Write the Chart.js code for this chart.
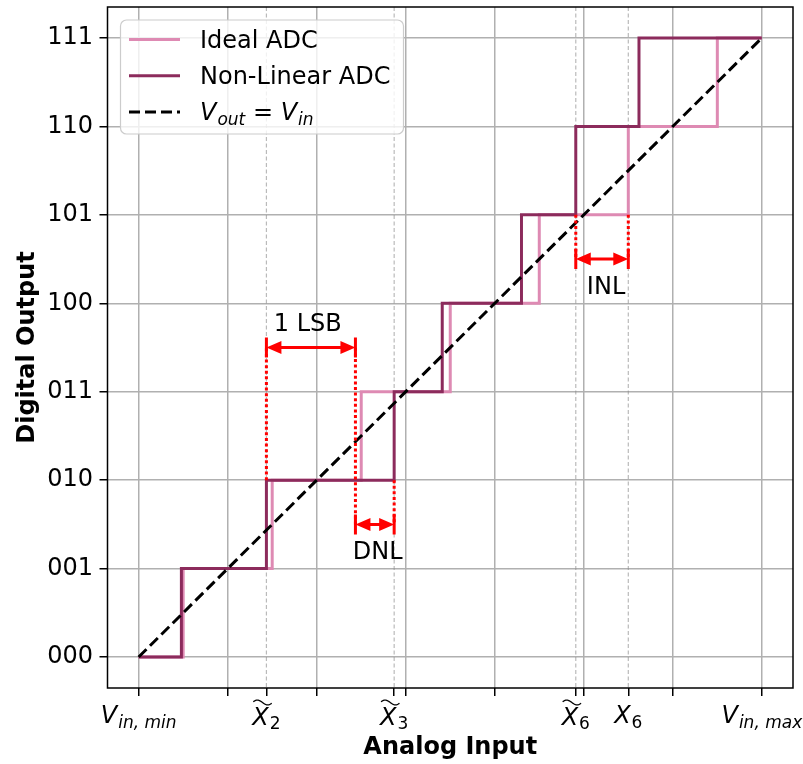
<!DOCTYPE html>
<html>
<head>
<meta charset="utf-8">
<script src="https://cdn.jsdelivr.net/npm/chart.js@4.4.1/dist/chart.umd.min.js"></script>
<style>
  html, body { margin: 0; padding: 0; background: #fff; }
  #wrap { width: 803px; height: 764px; }
</style>
</head>
<body>
<div id="wrap"><canvas id="adcChart"></canvas></div>
<script>
// Output codes (y axis)
const codeValues = [0, 1, 2, 3, 4, 5, 6, 7];
const codeLabels = ['000', '001', '010', '011', '100', '101', '110', '111'];

// Ideal ADC: transition points (x in LSB units)
const idealX = [0, 0.5, 1.5, 2.5, 3.5, 4.5, 5.5, 6.5, 7];
const idealY = [0, 1, 2, 3, 4, 5, 6, 7, 7];

// Non-linear ADC: transition points
const nonLinX = [0, 0.48, 1.435, 2.87, 3.41, 4.3, 4.91, 5.62, 7];
const nonLinY = [0, 1, 2, 3, 4, 5, 6, 7, 7];

// Vout = Vin
const refX = [0, 7];
const refY = [0, 7];

// x axis ticks
const xGridVals = [0, 1, 2, 3, 4, 5, 6, 7];
const xMarkVals = [1.435, 2.87, 4.91, 5.5];
const xLabelVals = [0, 1.435, 2.87, 4.91, 5.5, 7];
const xLabelMain = ['V', 'X', 'X', 'X', 'X', 'V'];
const xLabelSub = ['in, min', '2', '3', '6', '6', 'in, max'];
const xLabelTilde = [false, true, true, true, false, false];

// dimension arrows (1 LSB, DNL, INL)
const dimX0 = [1.435, 2.435, 4.91];
const dimX1 = [2.435, 2.87, 5.5];
const dimY = [3.5, 1.5, 4.5];
const dimText = ['1 LSB', 'DNL', 'INL'];
const dimTextX = [1.9, 2.685, 5.25];
const dimTextY = [3.69, 1.108, 4.11];

// red dotted guide lines
const guideX = [1.435, 2.435, 2.87, 4.91, 5.5];
const guideFrom = [2, 1.5, 2, 5, 5];
const guideTo = [3.5, 3.5, 1.5, 4.5, 4.5];

const FONT = 'DejaVu Sans';
Chart.defaults.font.family = FONT;
Chart.defaults.color = '#000';

const toPoints = (xs, ys) => xs.map((x, i) => ({ x: x, y: ys[i] }));

// wide tilde over a letter
function drawTilde(ctx, x0, x1, y) {
  const w = x1 - x0, h = 2.4;
  ctx.beginPath();
  for (let k = 0; k <= 30; k++) {
    const t = k / 30;
    const px = x0 + t * w;
    const py = y - h * Math.sin(2 * Math.PI * (t * 0.9 + 0.05));
    if (k === 0) ctx.moveTo(px, py); else ctx.lineTo(px, py);
  }
  ctx.stroke();
}

function dimArrow(ctx, xa, xb, y) {
  const head = 15, half = 6.5, bar = 10;
  ctx.lineWidth = 3;
  ctx.beginPath();
  ctx.moveTo(xa + head - 1, y); ctx.lineTo(xb - head + 1, y);
  ctx.moveTo(xa, y - bar); ctx.lineTo(xa, y + bar);
  ctx.moveTo(xb, y - bar); ctx.lineTo(xb, y + bar);
  ctx.stroke();
  ctx.beginPath();
  ctx.moveTo(xa, y); ctx.lineTo(xa + head, y - half); ctx.lineTo(xa + head, y + half); ctx.closePath();
  ctx.moveTo(xb, y); ctx.lineTo(xb - head, y - half); ctx.lineTo(xb - head, y + half); ctx.closePath();
  ctx.fill();
}

// text pieces [text, kind], kind: main / it / sub / subit
function pieceFont(kind) {
  const sub = kind === 'sub' || kind === 'subit';
  const it = kind === 'it' || kind === 'subit';
  return (it ? 'italic ' : '') + (sub ? '17px ' : '24px ') + FONT;
}

function partsWidth(ctx, parts) {
  let w = 0;
  parts.forEach(p => {
    ctx.font = pieceFont(p[1]);
    w += ctx.measureText(p[0]).width + (p[1] === 'it' ? 1 : 0);
  });
  return w;
}

function drawParts(ctx, parts, left, base) {
  let cx = left;
  parts.forEach(p => {
    const sub = p[1] === 'sub' || p[1] === 'subit';
    ctx.font = pieceFont(p[1]);
    ctx.fillText(p[0], cx, base + (sub ? 4.5 : 0));
    cx += ctx.measureText(p[0]).width + (p[1] === 'it' ? 1 : 0);
  });
}

const adcDecor = {
  id: 'adcDecor',
  beforeDatasetsDraw(chart) {
    const { ctx, chartArea: a, scales: { x } } = chart;
    ctx.save();
    ctx.strokeStyle = 'rgba(140,140,140,0.6)';
    ctx.lineWidth = 1.2;
    ctx.setLineDash([4, 2.5]);
    xMarkVals.forEach(v => {
      const px = x.getPixelForValue(v);
      ctx.beginPath(); ctx.moveTo(px, a.top); ctx.lineTo(px, a.bottom); ctx.stroke();
    });
    ctx.restore();
  },
  afterDatasetsDraw(chart) {
    const { ctx, scales: { x, y } } = chart;
    ctx.save();
    ctx.strokeStyle = '#ff0000';
    ctx.fillStyle = '#ff0000';
    ctx.lineWidth = 3;
    ctx.setLineDash([3, 2.6]);
    guideX.forEach((gx, i) => {
      const px = x.getPixelForValue(gx);
      ctx.beginPath();
      ctx.moveTo(px, y.getPixelForValue(guideFrom[i]));
      ctx.lineTo(px, y.getPixelForValue(guideTo[i]));
      ctx.stroke();
    });
    ctx.setLineDash([]);
    dimX0.forEach((d, i) => {
      dimArrow(ctx, x.getPixelForValue(d), x.getPixelForValue(dimX1[i]), y.getPixelForValue(dimY[i]));
    });
    ctx.fillStyle = '#000';
    ctx.font = '24px ' + FONT;
    ctx.textAlign = 'center';
    ctx.textBaseline = 'alphabetic';
    dimText.forEach((t, i) => {
      ctx.fillText(t, x.getPixelForValue(dimTextX[i]), y.getPixelForValue(dimTextY[i]));
    });
    ctx.restore();
  },
  afterDraw(chart) {
    const { ctx, chartArea: a, scales: { x } } = chart;
    ctx.save();
    // frame
    ctx.strokeStyle = '#000';
    ctx.lineWidth = 1.5;
    ctx.strokeRect(a.left, a.top, a.right - a.left, a.bottom - a.top);

    // x tick labels
    ctx.fillStyle = '#000';
    ctx.textAlign = 'left';
    ctx.textBaseline = 'alphabetic';
    xLabelVals.forEach((v, i) => {
      const digit = /^\d+$/.test(xLabelSub[i]);
      const parts = [[xLabelMain[i], 'it'], [xLabelSub[i], digit ? 'sub' : 'subit']];
      const w = partsWidth(ctx, parts);
      const left = x.getPixelForValue(v) - w / 2;
      const base = a.bottom + 35 + (xLabelTilde[i] ? 1.5 : 0);
      drawParts(ctx, parts, left, base);
      if (xLabelTilde[i]) {
        ctx.font = 'italic 24px ' + FONT;
        const wm = ctx.measureText(xLabelMain[i]).width;
        ctx.strokeStyle = '#000';
        ctx.lineWidth = 1.3;
        drawTilde(ctx, left + 1, left + wm + 3, base - 22);
      }
    });

    // legend
    const lx = a.left + 13, ly = a.top + 13, lw = 283, lh = 114;
    ctx.fillStyle = 'rgba(255,255,255,0.8)';
    ctx.strokeStyle = '#cccccc';
    ctx.lineWidth = 1.2;
    ctx.beginPath();
    ctx.roundRect(lx, ly, lw, lh, 6);
    ctx.fill();
    ctx.stroke();
    chart.data.datasets.forEach((ds, i) => {
      const yy = ly + 19.5 + i * 36.3;
      ctx.strokeStyle = ds.borderColor;
      ctx.lineWidth = ds.borderWidth;
      ctx.setLineDash(ds.borderDash || []);
      ctx.beginPath(); ctx.moveTo(lx + 8.5, yy); ctx.lineTo(lx + 59.5, yy); ctx.stroke();
      ctx.setLineDash([]);
      ctx.fillStyle = '#000';
      if (i === 2) {
        drawParts(ctx, [['V', 'it'], ['out', 'subit'], [' = ', 'main'], ['V', 'it'], ['in', 'subit']], lx + 79.5, yy + 8.3);
      } else {
        ctx.font = '24px ' + FONT;
        ctx.fillText(ds.label, lx + 79.5, yy + 8.3);
      }
    });
    ctx.restore();
  }
};

const ctx = document.getElementById('adcChart').getContext('2d');
new Chart(ctx, {
  type: 'line',
  data: {
    datasets: [{
      label: 'Ideal ADC',
      data: toPoints(idealX, idealY),
      stepped: true,
      borderColor: '#de8ab3',
      borderWidth: 3,
      pointRadius: 0,
      fill: false,
      order: 3
    }, {
      label: 'Non-Linear ADC',
      data: toPoints(nonLinX, nonLinY),
      stepped: true,
      borderColor: '#8c2b5c',
      borderWidth: 3,
      pointRadius: 0,
      fill: false,
      order: 2
    }, {
      label: 'Vout = Vin',
      data: toPoints(refX, refY),
      borderColor: '#000000',
      borderDash: [11, 5],
      borderWidth: 3,
      pointRadius: 0,
      fill: false,
      order: 1
    }]
  },
  options: {
    responsive: true,
    maintainAspectRatio: false,
    animation: false,
    layout: { padding: { left: 0, right: 10, top: 7, bottom: 0 } },
    scales: {
      x: {
        type: 'linear',
        min: -0.35,
        max: 7.35,
        afterBuildTicks: s => {
          s.ticks = xGridVals.concat(xMarkVals).sort((p, q) => p - q).map(v => ({ value: v }));
        },
        afterFit: s => {
          s.height = 76;
          s.paddingLeft = 0;
          s.paddingRight = 0;
        },
        ticks: { display: false, autoSkip: false },
        grid: {
          color: c => (c.tick && Number.isInteger(c.tick.value)) ? '#b0b0b0' : 'rgba(0,0,0,0)',
          lineWidth: 1.5,
          tickColor: '#000',
          tickWidth: 1.5,
          tickLength: 8
        },
        border: { display: false },
        title: {
          display: true,
          text: 'Analog Input',
          color: '#000',
          font: { size: 24, weight: 'bold' },
          padding: { top: 0, bottom: 2 }
        }
      },
      y: {
        type: 'linear',
        min: -0.35,
        max: 7.35,
        afterBuildTicks: s => {
          s.ticks = codeValues.map(v => ({ value: v }));
        },
        afterFit: s => {
          s.width = 107.5;
          s.paddingTop = 0;
          s.paddingBottom = 0;
        },
        ticks: {
          callback: (v, i) => codeLabels[i],
          color: '#000',
          font: { size: 24 },
          padding: 6.5,
          autoSkip: false
        },
        grid: {
          color: '#b0b0b0',
          lineWidth: 1.5,
          tickColor: '#000',
          tickWidth: 1.5,
          tickLength: 8
        },
        border: { display: false },
        title: {
          display: true,
          text: 'Digital Output',
          color: '#000',
          font: { size: 24, weight: 'bold' },
          padding: { top: 13, bottom: 0 }
        }
      }
    },
    plugins: {
      legend: { display: false },
      tooltip: { enabled: false }
    }
  },
  plugins: [adcDecor]
});
</script>
</body>
</html>
